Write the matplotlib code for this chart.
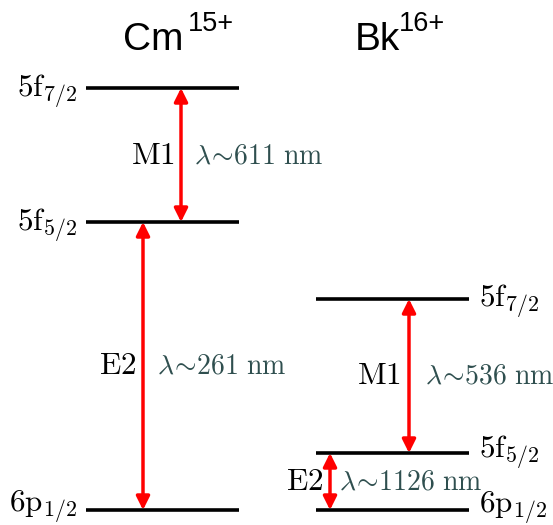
import matplotlib
matplotlib.use("Agg")
import matplotlib.pyplot as plt

plt.rcParams['mathtext.fontset'] = 'cm'

# Data (energies on the diagram's drawn scale, ground level = 0)
ions = ["Cm", "Bk"]
charges = ["15+", "16+"]
level_main = ["6p", "5f", "5f"]
level_sub = ["1/2", "5/2", "7/2"]
cm_levels = [0, 288, 422]
bk_levels = [0, 57, 211]
transition_types = ["E2", "M1"]
cm_wavelengths = ["261", "611"]
bk_wavelengths = ["1126", "536"]

W, H = 553, 525
fig = plt.figure(figsize=(W / 100, H / 100), dpi=100)
ax = fig.add_axes([0, 0, 1, 1])
ax.set_xlim(0, W)
ax.set_ylim(-15, 510)
ax.axis('off')

red = '#ff0000'
slate = '#2f4f4f'
fs_lab = 22.5
fs_lam = 20
fs_title = 28
fs_sup = 19.5

cols = [
    dict(x0=86, x1=239, levels=cm_levels, lams=cm_wavelengths,
         arrow_x=[143, 181], side='left', tx=123, sx=188,
         lab_dy=[2, 9, 9], lgap=[7, 6], rgap=[14, 13]),
    dict(x0=316, x1=469, levels=bk_levels, lams=bk_wavelengths,
         arrow_x=[330, 409], side='right', tx=355, sx=399,
         lab_dy=[3, 5, 8], lgap=[7, 8], rgap=[9, 16]),
]

for ion, ch, c in zip(ions, charges, cols):
    lv = c['levels']
    for m, s, E, dy in zip(level_main, level_sub, lv, c['lab_dy']):
        ax.plot([c['x0'], c['x1']], [E, E], color='black', lw=2.6,
                solid_capstyle='butt')
        lbl = r"$\mathrm{%s}_{\mathrm{%s}}$" % (m, s)
        if c['side'] == 'left':
            ax.text(c['x0'] - 9, E - dy, lbl, ha='right', va='baseline',
                    fontsize=fs_lab)
        else:
            ax.text(c['x1'] + 10, E - dy, lbl, ha='left', va='baseline',
                    fontsize=fs_lab)
    for i, (kind, lam, axx) in enumerate(zip(transition_types, c['lams'],
                                              c['arrow_x'])):
        lo, hi = lv[i], lv[i + 1]
        ax.annotate('', xy=(axx, hi), xytext=(axx, lo),
                    arrowprops=dict(arrowstyle='<|-|>', color=red, lw=2.5,
                                    mutation_scale=20, shrinkA=0, shrinkB=0))
        mid = (lo + hi) / 2
        ax.text(axx - c['lgap'][i], mid, r"$\mathrm{%s}$" % kind, ha='right',
                va='center', fontsize=fs_lab)
        ax.text(axx + c['rgap'][i], mid,
                r"$\lambda\!\sim\!\mathrm{%s\ nm}$" % lam,
                ha='left', va='center', fontsize=fs_lam, color=slate)
    ax.text(c['tx'], 460, ion, ha='left', va='baseline', fontsize=fs_title,
            family='Liberation Sans')
    ax.text(c['sx'], 479, ch, ha='left', va='baseline', fontsize=fs_sup,
            family='Liberation Sans')

fig.savefig('out.png', dpi=100)
